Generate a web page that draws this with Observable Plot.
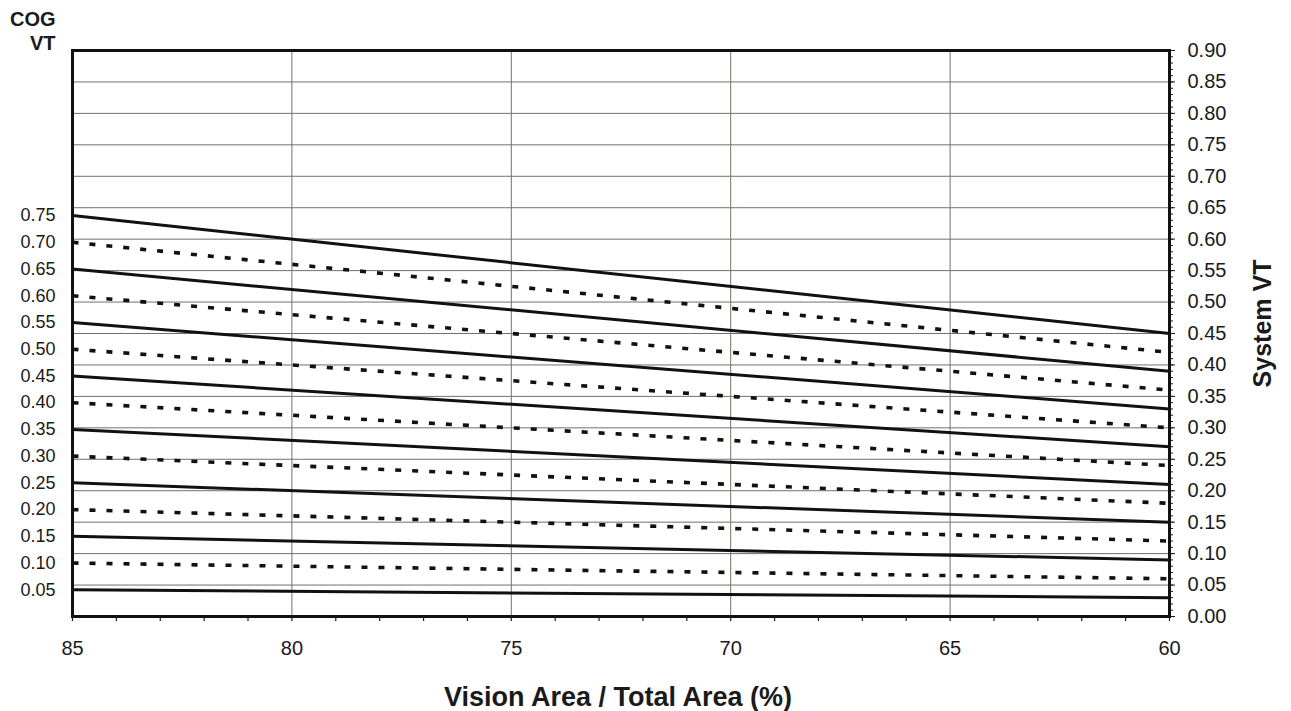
<!DOCTYPE html>
<html><head><meta charset="utf-8">
<script src="https://cdn.jsdelivr.net/npm/d3@7"></script>
<script src="https://cdn.jsdelivr.net/npm/@observablehq/plot@0.6"></script>
<style>
body{margin:0;background:#fff}
svg{font-family:"Liberation Sans",Arial,sans-serif}
</style>
</head><body><div id="chart"></div>
<script>
// COG VT of each line (left labels)
const cogVT = [0.05,0.10,0.15,0.20,0.25,0.30,0.35,0.40,0.45,0.50,0.55,0.60,0.65,0.70,0.75];
// System VT read at Vision Area 85%
const sysAt85 = [0.0425,0.085,0.1275,0.17,0.2125,0.255,0.2975,0.34,0.3825,0.425,0.4675,0.51,0.5525,0.595,0.6375];
// System VT read at Vision Area 60%
const sysAt60 = [0.03,0.06,0.09,0.12,0.15,0.18,0.21,0.24,0.27,0.30,0.33,0.36,0.39,0.42,0.45];
const lineStyle = ["solid","dotted","solid","dotted","solid","dotted","solid","dotted","solid","dotted","solid","dotted","solid","dotted","solid"];
const xStart = 85, xEnd = 60;
const xTicks = [85,80,75,70,65,60];
const xGrid = [80,75,70,65];
const yTicks = [0,0.05,0.10,0.15,0.20,0.25,0.30,0.35,0.40,0.45,0.50,0.55,0.60,0.65,0.70,0.75,0.80,0.85,0.90];

const rows = cogVT.map((c,i)=>({cog:c, y1:sysAt85[i], y2:sysAt60[i], style:lineStyle[i]}));
const cogLabel = new Map(sysAt85.map((v,i)=>[v, cogVT[i].toFixed(2)]));
const xMinor = d3.range(60, 86);
const yMinor = d3.range(0, 91).map(i => i/100);

const chart = Plot.plot({
  width: 1291, height: 711,
  marginLeft: 72, marginRight: 122, marginTop: 50, marginBottom: 95,
  x: {domain: [85, 60]},
  y: {domain: [0, 0.9]},
  style: {fontFamily: '"Liberation Sans", Arial, sans-serif', color: "#1a1a1a", background: "#fff"},
  marks: [
    Plot.gridY(yTicks, {stroke: "#707070", strokeOpacity: 1, strokeWidth: 1}),
    Plot.gridX(xGrid, {stroke: "#7a6f6a", strokeOpacity: 1, strokeWidth: 1}),
    Plot.link(rows.filter(d => d.style === "dotted"), {
      x1: d => xStart, x2: d => xEnd, y1: "y1", y2: "y2",
      stroke: "#111", strokeWidth: 3.6, strokeDasharray: "6,11"
    }),
    Plot.link(rows.filter(d => d.style === "solid"), {
      x1: d => xStart, x2: d => xEnd, y1: "y1", y2: "y2",
      stroke: "#111", strokeWidth: 3
    }),
    Plot.frame({stroke: "#111", strokeWidth: 3}),
    // bottom axis
    Plot.axisX(xMinor, {tickSize: 5, tickFormat: () => "", label: null, strokeWidth: 1.2}),
    Plot.axisX(xTicks, {tickSize: 0, tickPadding: 24, fontSize: 20, tickFormat: d => String(d), label: null}),
    // right axis (System VT)
    Plot.axisY(yMinor, {anchor: "right", tickSize: 3, tickFormat: () => "", label: null}),
    Plot.axisY(yTicks, {anchor: "right", tickSize: 5, tickPadding: 13, fontSize: 20, tickFormat: d3.format(".2f"), label: null}),
    // left axis (COG VT labels at line starts)
    Plot.axisY(sysAt85, {anchor: "left", tickSize: 0, tickPadding: 17, fontSize: 18, tickFormat: d => cogLabel.get(d), label: null}),
    // titles
    Plot.text(["COG"], {frameAnchor: "top-left", dx: -17, dy: -31, textAnchor: "end", lineAnchor: "middle", fontSize: 20, fontWeight: "bold"}),
    Plot.text(["VT"], {frameAnchor: "top-left", dx: -17, dy: -7, textAnchor: "end", lineAnchor: "middle", fontSize: 20, fontWeight: "bold"}),
    Plot.text(["System VT"], {frameAnchor: "right", dx: 93, dy: -10, rotate: -90, textAnchor: "middle", lineAnchor: "middle", fontSize: 25, fontWeight: "bold"}),
    Plot.text(["Vision Area / Total Area (%)"], {frameAnchor: "bottom", dx: -3, dy: 81, textAnchor: "middle", lineAnchor: "middle", fontSize: 27, fontWeight: "bold"})
  ]
});
document.getElementById("chart").appendChild(chart);
</script>
</body></html>
